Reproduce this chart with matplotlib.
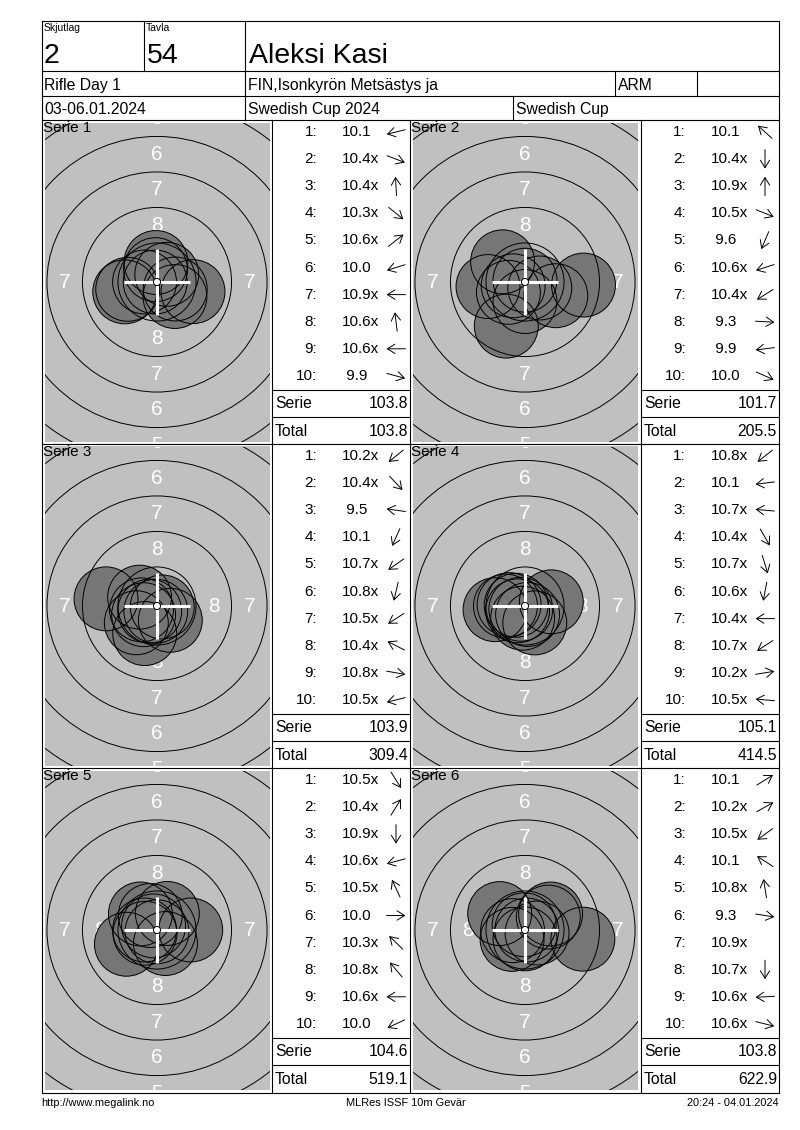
import matplotlib
matplotlib.use("Agg")
import numpy as np
import matplotlib.pyplot as plt
from matplotlib.patches import Circle

plt.rcParams['font.family'] = ['Liberation Sans', 'DejaVu Sans']

# header / footer texts
squad = "2"
lane = "54"
shooter = "Aleksi Kasi"
event = "Rifle Day 1"
club = "FIN,Isonkyrön Metsästys ja"
nation = "ARM"
dates = "03-06.01.2024"
competition = "Swedish Cup 2024"
cup = "Swedish Cup"
footer_left = "http://www.megalink.no"
footer_mid = "MLRes ISSF 10m Gevär"
footer_right = "20:24 - 04.01.2024"

# shot values per series
serie1_scores = ["10.1", "10.4x", "10.4x", "10.3x", "10.6x", "10.0", "10.9x", "10.6x", "10.6x", "9.9"]
serie2_scores = ["10.1", "10.4x", "10.9x", "10.5x", "9.6", "10.6x", "10.4x", "9.3", "9.9", "10.0"]
serie3_scores = ["10.2x", "10.4x", "9.5", "10.1", "10.7x", "10.8x", "10.5x", "10.4x", "10.8x", "10.5x"]
serie4_scores = ["10.8x", "10.1", "10.7x", "10.4x", "10.7x", "10.6x", "10.4x", "10.7x", "10.2x", "10.5x"]
serie5_scores = ["10.5x", "10.4x", "10.9x", "10.6x", "10.5x", "10.0", "10.3x", "10.8x", "10.6x", "10.0"]
serie6_scores = ["10.1", "10.2x", "10.5x", "10.1", "10.8x", "9.3", "10.9x", "10.7x", "10.6x", "10.6x"]

# shot directions in degrees (0 = right, 90 = up)
serie1_dirs = [194, 339, 93, 321, 38, 197, 180, 97, 180, 345]
serie2_dirs = [138, 270, 90, 338, 247, 198, 212, 357, 187, 336]
serie3_dirs = [219, 313, 172, 246, 215, 257, 213, 153, 350, 194]
serie4_dirs = [218, 187, 175, 300, 287, 259, 180, 213, 9, 175]
serie5_dirs = [302, 58, 270, 195, 115, 0, 136, 130, 180, 205]
serie6_dirs = [32, 29, 216, 147, 99, 351, None, 270, 183, 346]

serie_sums = ["103.8", "101.7", "103.9", "105.1", "104.6", "103.8"]
running_totals = ["103.8", "205.5", "309.4", "414.5", "519.1", "622.9"]

all_scores = [serie1_scores, serie2_scores, serie3_scores,
              serie4_scores, serie5_scores, serie6_scores]
all_dirs = [serie1_dirs, serie2_dirs, serie3_dirs,
            serie4_dirs, serie5_dirs, serie6_dirs]

# ISSF 10m air rifle target (mm)
ring_radii = [22.75 - 2.5 * k for k in range(9)]   # rings 1..9
ring_labels = list(range(1, 9))
PELLET_R = 2.25
DOT_R = 0.25
PX_MM = 14.2

W, H = 800, 1130
fig = plt.figure(figsize=(W / 100, H / 100), dpi=100)
fig.patch.set_facecolor('white')


def fbox(x0, y0, x1, y1):
    return [x0 / W, 1 - y1 / H, (x1 - x0) / W, (y1 - y0) / H]


def shot_dist(score):
    v = float(score.rstrip('x'))
    return (10.9 - v) * 2.5 + 0.125


# ---- targets ----
for i in range(6):
    col, row = i % 2, i // 2
    cx = 157 + 368 * col
    cy = 282 + 324 * row
    hw, hh = 112.5, 159.5
    xl, yl = hw / PX_MM, hh / PX_MM
    tax = fig.add_axes(fbox(cx - hw, cy - hh, cx + hw, cy + hh))
    tax.set_facecolor('#c0c0c0')
    tax.set_xlim(-xl, xl)
    tax.set_ylim(-yl, yl)
    tax.set_xticks([])
    tax.set_yticks([])
    for s in tax.spines.values():
        s.set_visible(False)

    # ring numbers, only those that reach into the visible area
    for k, lab in enumerate(ring_labels):
        rm = (ring_radii[k] + ring_radii[k + 1]) / 2
        if rm < yl + 0.6:
            for ly in (rm, -rm):
                tax.text(0, ly, str(lab), color='white', fontsize=15,
                         ha='center', va='center', zorder=2, clip_on=True)
        if rm < xl:
            for lx in (rm, -rm):
                tax.text(lx, 0, str(lab), color='white', fontsize=15,
                         ha='center', va='center', zorder=2, clip_on=True)

    xs, ys = [], []
    for sc, ang in zip(all_scores[i], all_dirs[i]):
        d = shot_dist(sc)
        a = np.radians(ang if ang is not None else 0)
        xs.append(d * np.cos(a))
        ys.append(d * np.sin(a))
    for x, y in zip(xs, ys):
        tax.add_patch(Circle((x, y), PELLET_R, facecolor='#767676',
                             edgecolor='none', zorder=3))
    for x, y in zip(xs, ys):
        tax.add_patch(Circle((x, y), PELLET_R, fill=False,
                             edgecolor='black', lw=0.7, zorder=4))

    for r in ring_radii:
        tax.add_patch(Circle((0, 0), r, fill=False, edgecolor='black',
                             lw=0.7, zorder=5))

    arm = 2.3
    tax.plot([-arm, arm], [0, 0], color='white', lw=2.2, zorder=6,
             solid_capstyle='butt')
    tax.plot([0, 0], [-arm, arm], color='white', lw=2.2, zorder=6,
             solid_capstyle='butt')
    tax.add_patch(Circle((0, 0), DOT_R, facecolor='white',
                         edgecolor='black', lw=0.7, zorder=7))

# ---- overlay: frame, tables, texts ----
ax = fig.add_axes([0, 0, 1, 1])
ax.set_xlim(0, W)
ax.set_ylim(H, 0)
ax.axis('off')

LW = 0.8
L, R, T, B = 42, 779, 21, 1093
ax.plot([L, R, R, L, L], [T, T, B, B, T], color='black', lw=LW)
for y in [70.5, 95.5, 120, 444, 768]:
    ax.plot([L, R], [y, y], color='black', lw=LW)
ax.plot([144, 144], [T, 70.5], color='black', lw=LW)
ax.plot([245, 245], [T, 120], color='black', lw=LW)
ax.plot([615, 615], [70.5, 95.5], color='black', lw=LW)
ax.plot([697, 697], [70.5, 95.5], color='black', lw=LW)
ax.plot([513, 513], [95.5, 120], color='black', lw=LW)
for x in [272, 410, 641]:
    ax.plot([x, x], [120, B], color='black', lw=LW)

# header text
ax.text(44, 23, "Skjutlag", fontsize=7.5, ha='left', va='top')
ax.text(146, 23, "Tavla", fontsize=7.5, ha='left', va='top')
ax.text(44, 63, squad, fontsize=20.5, ha='left', va='baseline')
ax.text(147, 63, lane, fontsize=20.5, ha='left', va='baseline')
ax.text(249, 63, shooter, fontsize=20.5, ha='left', va='baseline')
ax.text(44, 90, event, fontsize=11.3, ha='left', va='baseline')
ax.text(248, 90, club, fontsize=11.3, ha='left', va='baseline')
ax.text(618, 90, nation, fontsize=11.3, ha='left', va='baseline')
ax.text(44, 114, dates, fontsize=11.3, ha='left', va='baseline')
ax.text(248, 114, competition, fontsize=11.3, ha='left', va='baseline')
ax.text(516, 114, cup, fontsize=11.3, ha='left', va='baseline')

# series tables
ARROW_L = 19
for i in range(6):
    col, row = i % 2, i // 2
    cell_left = 42 + 368 * col
    tl = 272 + 369 * col
    tr = tl + 138 if col == 0 else R
    rt = 120 + 324 * row
    ax.text(cell_left + 1, rt + 1, f"Serie {i + 1}", fontsize=11,
            ha='left', va='top')
    for j, (sc, ang) in enumerate(zip(all_scores[i], all_dirs[i])):
        y = rt + 12 + 27.1 * j
        ax.text(tl + 45, y, f"{j + 1}:", fontsize=11, ha='right', va='center')
        txt = sc if sc.startswith('10') else ' ' + sc
        ax.text(tl + 70, y, txt, fontsize=11, ha='left', va='center')
        if ang is not None:
            a = np.radians(ang)
            dx = np.cos(a) * ARROW_L / 2
            dy = -np.sin(a) * ARROW_L / 2
            ax.annotate('', xy=(tl + 124 + dx, y + dy),
                        xytext=(tl + 124 - dx, y - dy),
                        arrowprops=dict(arrowstyle='->,head_length=0.45,head_width=0.28',
                                        lw=0.7, color='black',
                                        shrinkA=0, shrinkB=0,
                                        mutation_scale=12))
    ax.plot([tl, tr], [rt + 270, rt + 270], color='black', lw=LW)
    ax.plot([tl, tr], [rt + 297, rt + 297], color='black', lw=LW)
    ax.text(tl + 3, rt + 284, "Serie", fontsize=11.3, ha='left', va='center')
    ax.text(tr - 2, rt + 284, serie_sums[i], fontsize=11.3, ha='right', va='center')
    ax.text(tl + 3, rt + 311, "Total", fontsize=11.3, ha='left', va='center')
    ax.text(tr - 2, rt + 311, running_totals[i], fontsize=11.3, ha='right', va='center')

# footer
ax.text(41, 1103, footer_left, fontsize=7.9, ha='left', va='center')
ax.text(406, 1103, footer_mid, fontsize=7.9, ha='center', va='center')
ax.text(779, 1103, footer_right, fontsize=7.9, ha='right', va='center')

fig.savefig("out.png", dpi=100, facecolor='white')
